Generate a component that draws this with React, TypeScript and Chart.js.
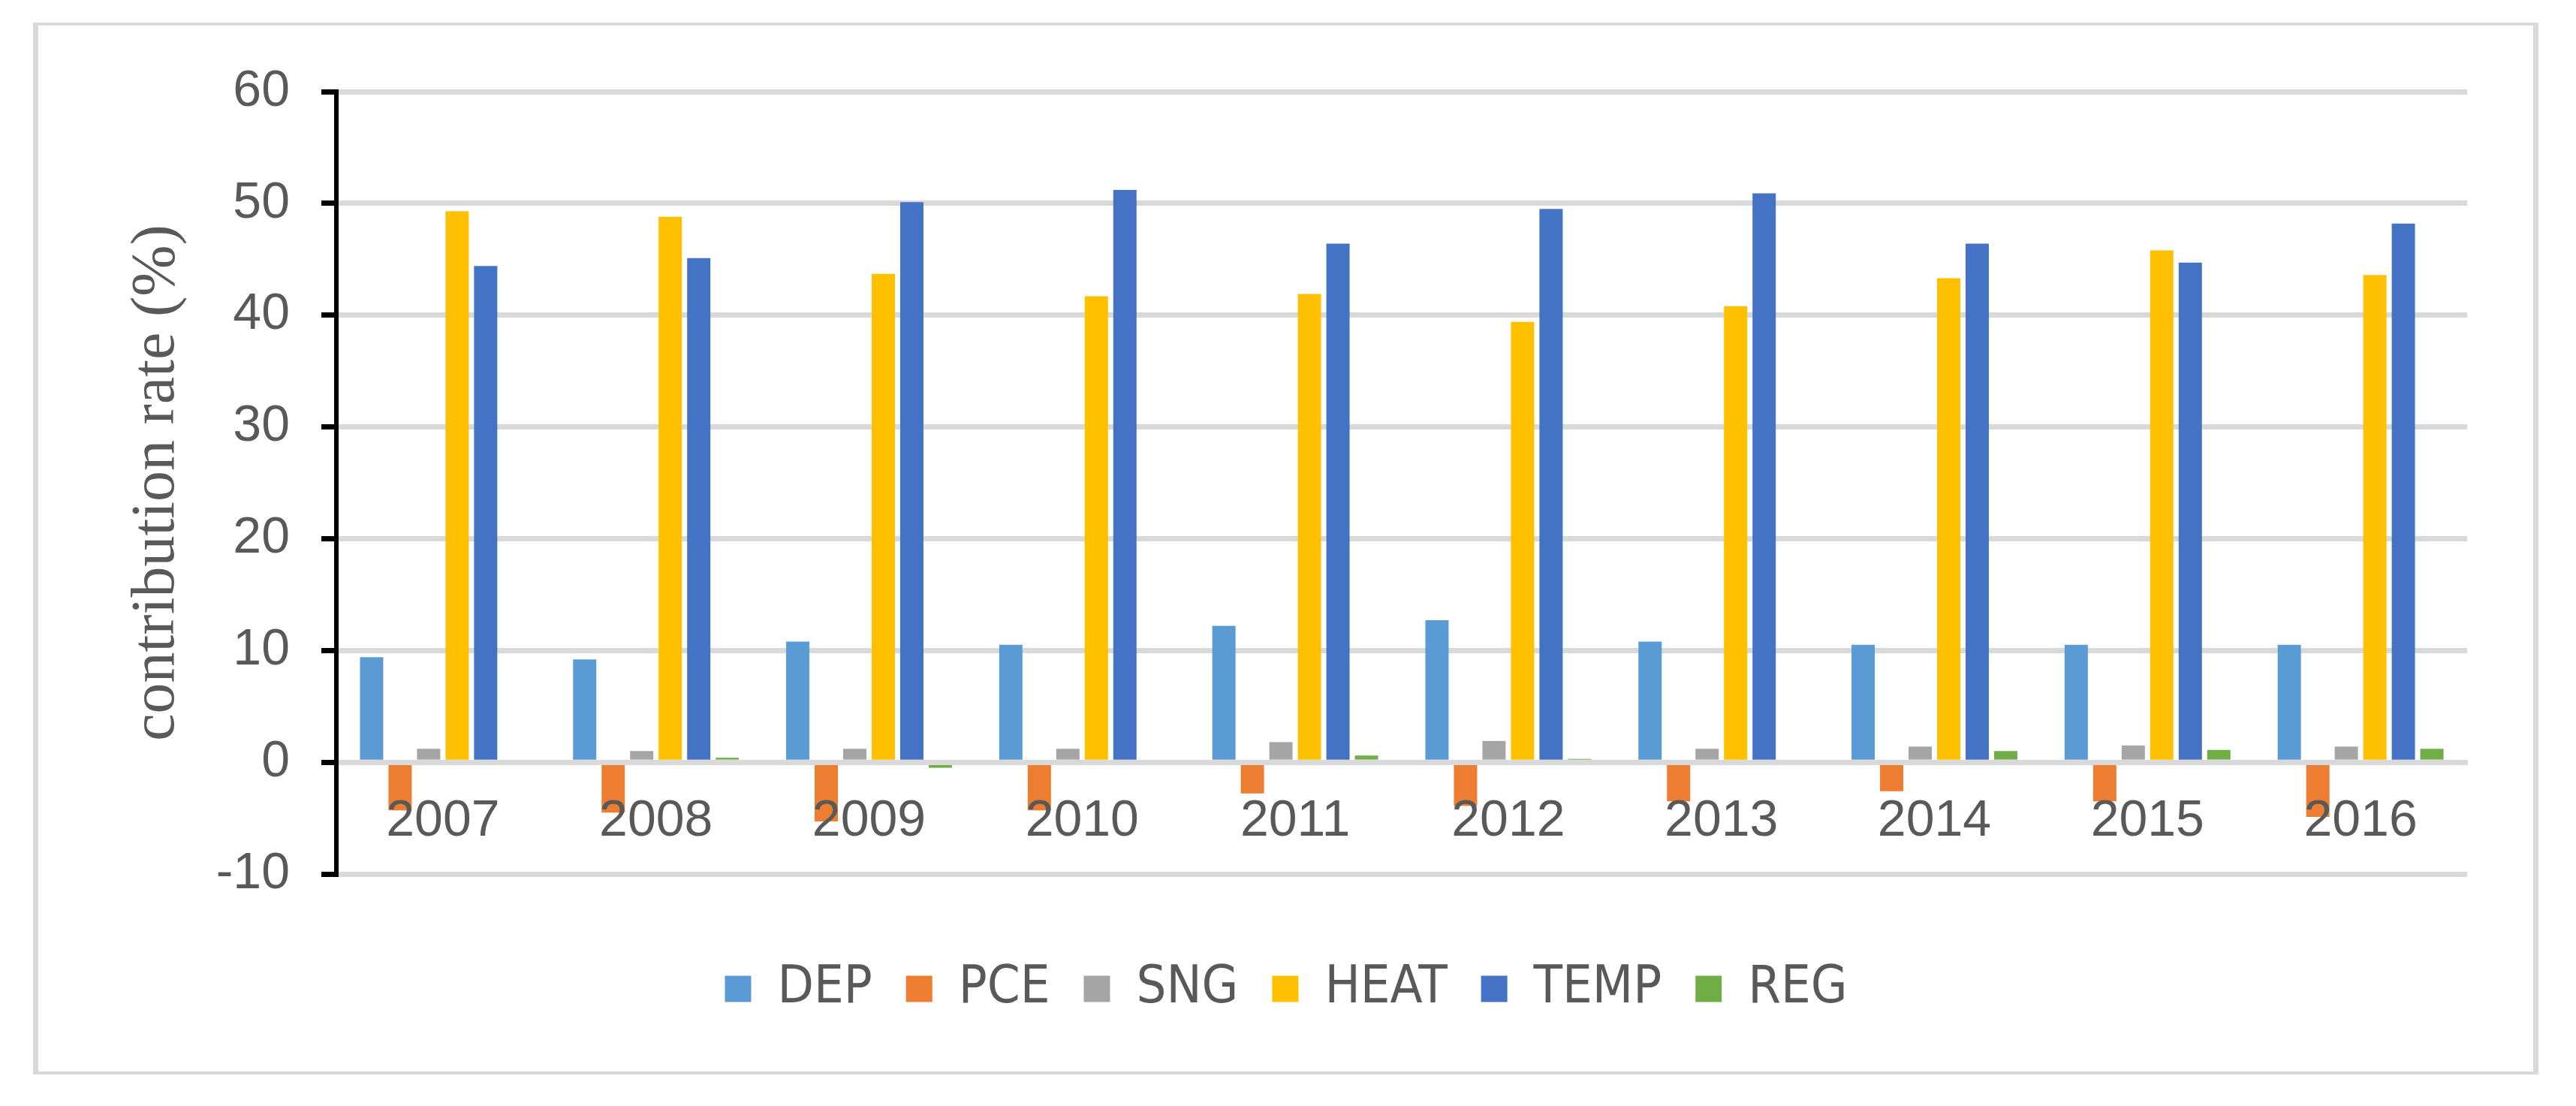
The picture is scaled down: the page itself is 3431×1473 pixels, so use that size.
import React, { useEffect, useRef } from "react";
import { Chart, registerables } from "chart.js";

Chart.register(...registerables);

const years = ["2007", "2008", "2009", "2010", "2011", "2012", "2013", "2014", "2015", "2016"];
const DEP = [9.4, 9.2, 10.8, 10.5, 12.2, 12.7, 10.8, 10.5, 10.5, 10.5];
const PCE = [-4.3, -4.5, -5.3, -4.3, -2.8, -3.9, -3.5, -2.6, -3.5, -4.9];
const SNG = [1.2, 1.0, 1.2, 1.2, 1.8, 1.9, 1.2, 1.4, 1.5, 1.4];
const HEAT = [49.3, 48.8, 43.7, 41.7, 41.9, 39.4, 40.8, 43.3, 45.8, 43.6];
const TEMP = [44.4, 45.1, 50.1, 51.2, 46.4, 49.5, 50.9, 46.4, 44.7, 48.2];
const REG = [0, 0.4, -0.5, 0, 0.6, 0.3, 0, 1.0, 1.1, 1.2];

const yMin = -10;
const yMax = 60;
const yStep = 10;
const yTitle = "contribution rate (%)";

const W = 3431;
const H = 1473;
const TEXT = "#595959";
const GRID = "#D9D9D9";

export default function App() {
  const ref = useRef<HTMLCanvasElement | null>(null);

  useEffect(() => {
    document.body.style.margin = "0";
    const canvas = ref.current;
    if (!canvas) return;
    const series = [
      { label: "DEP", data: DEP, color: "#5B9BD5" },
      { label: "PCE", data: PCE, color: "#ED7D31" },
      { label: "SNG", data: SNG, color: "#A5A5A5" },
      { label: "HEAT", data: HEAT, color: "#FFC000" },
      { label: "TEMP", data: TEMP, color: "#4472C4" },
      { label: "REG", data: REG, color: "#70AD47" },
    ];
    const chart = new Chart(canvas, {
      type: "bar",
      data: {
        labels: years,
        datasets: series.map((s) => ({
          label: s.label,
          data: s.data,
          backgroundColor: s.color,
          borderWidth: 0,
          categoryPercentage: 0.803,
          barPercentage: 0.816,
        })),
      },
      options: {
        animation: false,
        responsive: false,
        devicePixelRatio: 1,
        layout: { padding: { left: 140, right: 145, top: 122, bottom: 111 } },
        plugins: {
          tooltip: { enabled: false },
          legend: {
            position: "bottom",
            title: { display: true, text: "", font: { size: 10 }, padding: { top: 61, bottom: 0 } },
            labels: {
              boxWidth: 35,
              boxHeight: 35,
              padding: 45,
              color: TEXT,
              font: { family: "'Liberation Sans Narrow', 'DejaVu Sans Condensed', 'Liberation Sans', Arial, sans-serif", size: 70 },
            },
          },
        },
        scales: {
          x: {
            type: "category",
            position: { y: 0 } as any,
            offset: true,
            grid: { display: false, drawTicks: false },
            border: { display: true, color: GRID, width: 7, z: 1 } as any,
            ticks: {
              z: 1,
              padding: 38,
              color: TEXT,
              maxRotation: 0,
              autoSkip: false,
              font: { family: "'Liberation Sans', Arial, sans-serif", size: 68 },
            },
          },
          y: {
            type: "linear",
            position: "left",
            min: yMin,
            max: yMax,
            afterFit: (scale: any) => {
              scale.width = 308;
            },
            ticks: {
              stepSize: yStep,
              padding: 42,
              color: TEXT,
              font: { family: "'Liberation Sans', Arial, sans-serif", size: 68 },
            },
            grid: {
              color: GRID,
              lineWidth: 7,
              tickColor: "#000000",
              tickLength: 20,
              tickWidth: 7,
            } as any,
            border: { display: true, color: "#000000", width: 6, z: 2 } as any,
            title: {
              display: true,
              text: yTitle,
              color: TEXT,
              padding: { top: 20, bottom: 0 },
              font: { family: "'Liberation Serif', 'Times New Roman', serif", size: 82 },
            },
          },
        },
      },
    });
    return () => chart.destroy();
  }, []);

  return (
    <div style={{ position: "absolute", left: 0, top: 0, width: W, height: H, background: "#fff", overflow: "hidden" }}>
      <canvas ref={ref} width={W} height={H} style={{ position: "absolute", left: 0, top: 0, width: W, height: H }} />
      <div
        style={{
          position: "absolute",
          left: 44,
          top: 30,
          width: 3337,
          height: 1401,
          boxSizing: "border-box",
          borderStyle: "solid",
          borderColor: GRID,
          borderWidth: "4px 7px 4px 7px",
          pointerEvents: "none",
        }}
      />
    </div>
  );
}
